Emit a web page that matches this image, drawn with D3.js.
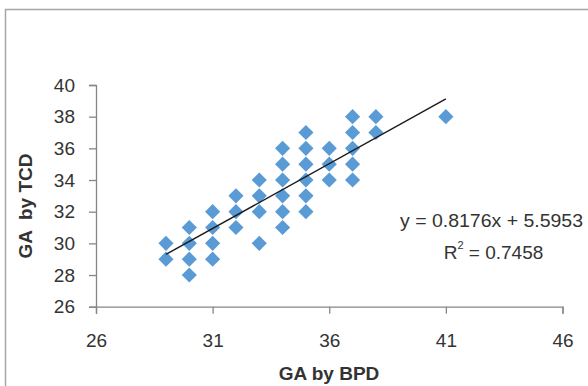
<!DOCTYPE html>
<html>
<head>
<meta charset="utf-8">
<script src="https://cdn.jsdelivr.net/npm/d3@7"></script>
<style>
  html, body { margin: 0; padding: 0; background: #fff; }
  svg { display: block; }
  text { font-family: "Liberation Sans Narrow", "Arial Narrow", "Liberation Sans", sans-serif; }
</style>
</head>
<body>
<div id="chart"></div>
<script>
// Data: GA by BPD (x) vs GA by TCD (y)
const gaBPD = [29,29, 30,30,30,30, 31,31,31,31, 32,32,32, 33,33,33,33,
               34,34,34,34,34,34, 35,35,35,35,35,35, 36,36,36, 37,37,37,37,37, 38,38, 41];
const gaTCD = [30,29, 31,30,29,28, 32,31,30,29, 33,32,31, 34,33,32,30,
               36,35,34,33,32,31, 37,36,35,34,33,32, 36,35,34, 38,37,36,35,34, 38,37, 38];
const xTicks = [26, 31, 36, 41, 46];
const yTicks = [26, 28, 30, 32, 34, 36, 38, 40];
const slope = 0.8176, intercept = 5.5953;
const trendX = [29, 41];
const eqText = "y = 0.8176x + 5.5953";
const r2Value = "0.7458";
const xTitle = "GA by BPD";
const yTitle = "GA  by TCD";

const W = 588, H = 386;
const svg = d3.select("#chart").append("svg").attr("width", W).attr("height", H);

// outer chart frame
svg.append("rect").attr("x", 5.5).attr("y", 9.5).attr("width", 640).attr("height", 420)
  .attr("fill", "#fff").attr("stroke", "#a6a6a6").attr("stroke-width", 1.5);

const x = d3.scaleLinear().domain([26, 46]).range([96, 562.5]);
const y = d3.scaleLinear().domain([26, 40]).range([306.7, 85]);

const axisColor = "#868686";
const labelColor = "#333333";

// Y axis
const gy = svg.append("g").attr("transform", `translate(${x(26)},0)`)
  .call(d3.axisLeft(y).tickValues(yTicks).tickSize(7).tickPadding(14).tickFormat(d3.format("d")));
// X axis
const gx = svg.append("g").attr("transform", `translate(0,${y(26)})`)
  .call(d3.axisBottom(x).tickValues(xTicks).tickSize(7).tickPadding(20).tickFormat(d3.format("d")));

[gx, gy].forEach(g => {
  g.select(".domain").attr("stroke", axisColor).attr("stroke-width", 1.3);
  g.selectAll(".tick line").attr("stroke", axisColor).attr("stroke-width", 1.3);
  g.selectAll(".tick text").attr("fill", labelColor).style("font-size", "19px")
    .style("font-family", '"Liberation Sans Narrow", "Arial Narrow", "Liberation Sans", sans-serif');
});
gx.selectAll(".tick text").attr("dy", "0.71em");

// Points (diamonds)
const diamond = d3.symbol().type(d3.symbolSquare).size(115);
svg.append("g").selectAll("path").data(gaBPD.map((v, i) => [v, gaTCD[i]])).join("path")
  .attr("d", diamond)
  .attr("transform", d => `translate(${x(d[0])},${y(d[1])}) rotate(45)`)
  .attr("fill", "#5B9BD5");

// Trend line
const line = d3.line().x(d => x(d)).y(d => y(slope * d + intercept));
svg.append("path").datum(trendX).attr("d", line)
  .attr("fill", "none").attr("stroke", "#1a1a1a").attr("stroke-width", 1.4);

// Equation text
svg.append("text").attr("x", 491.5).attr("y", 220).attr("text-anchor", "middle")
  .attr("dominant-baseline", "central").attr("fill", labelColor)
  .attr("textLength", 183).attr("lengthAdjust", "spacingAndGlyphs")
  .style("font-size", "19px").text(eqText);
const r2 = svg.append("text").attr("x", 493.5).attr("y", 252).attr("text-anchor", "middle")
  .attr("dominant-baseline", "central").attr("fill", labelColor).style("font-size", "19px");
r2.append("tspan").text("R");
r2.append("tspan").attr("dy", -7).style("font-size", "11px").text("2");
r2.append("tspan").attr("dy", 7).text(" = " + r2Value);

// Axis titles
svg.append("text").attr("x", 329).attr("y", 373).attr("text-anchor", "middle")
  .attr("dominant-baseline", "central").attr("fill", labelColor)
  .style("font-size", "19px").style("font-weight", "bold").text(xTitle);
svg.append("text").attr("transform", "translate(25,206) rotate(-90)").attr("text-anchor", "middle")
  .attr("dominant-baseline", "central").attr("fill", labelColor).attr("xml:space", "preserve")
  .style("font-size", "19px").style("font-weight", "bold").style("white-space", "pre").text(yTitle);
</script>
</body>
</html>
